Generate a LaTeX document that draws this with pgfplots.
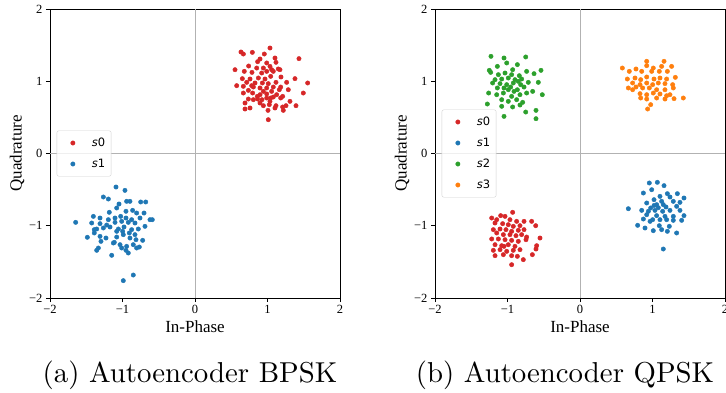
\documentclass[border=0pt]{standalone}
\usepackage{pgfplots}
\pgfplotsset{compat=1.18}
\usepackage{fontspec}
\usepackage{graphicx}
\newfontfamily\timesfont{Liberation Serif}
\newfontfamily\djv{DejaVu Sans}
\definecolor{tabred}{HTML}{D62728}
\definecolor{tabblue}{HTML}{1F77B4}
\definecolor{tabgreen}{HTML}{2CA02C}
\definecolor{taborange}{HTML}{FF7F0E}
\pgfplotsset{
  dot/.style={only marks, mark=*, mark size=2.2pt, mark options={draw=#1, fill=#1}, color=#1},
  iqaxis/.style={
    scale only axis, width=290pt, height=289pt,
    xmin=-2,xmax=2,ymin=-2,ymax=2,
    xtick={-2,-1,0,1,2}, ytick={-2,-1,0,1,2},
    xticklabels={−2,−1,0,1,2}, yticklabels={−2,−1,0,1,2},
    tick align=outside, tick pos=left,
    major tick length=4pt,
    tick style={black, line width=0.8pt},
    axis line style={line width=0.8pt},
    ticklabel style={font=\timesfont\fontsize{12.5}{14}\selectfont},
    xlabel={In-Phase}, ylabel={Quadrature},
    every axis x label/.style={at={(axis description cs:0.5,-0.120)}, anchor=base, inner sep=0pt, font=\timesfont\fontsize{17}{20}\selectfont},
    every axis y label/.style={at={(axis description cs:-0.098,0.5)}, rotate=90, anchor=base, inner sep=0pt, font=\timesfont\fontsize{17}{20}\selectfont},
    legend style={at={(axis description cs:0.023,0.5)}, anchor=west, draw=black!18, rounded corners=2pt, fill=white, fill opacity=0.8, text opacity=1, font=\djv\fontsize{11.5}{13}\selectfont, inner xsep=4pt, inner ysep=5.5pt, row sep=7.5pt,
      cells={anchor=west, inner xsep=4pt, inner ysep=0pt, text height=8pt, text depth=2pt}},
    legend cell align=left,
    legend image code/.code={\path[draw=none,fill=none] (-12pt,-2pt) rectangle (17pt,2pt); \fill[##1, fill opacity=1] (0pt,0pt) circle (2.2pt);},
  }
}
\begin{document}
\begin{tikzpicture}
\begin{axis}[iqaxis, at={(50pt,94pt)}, anchor=south west]
\addplot[forget plot, color=black!30, line width=0.8pt] coordinates {(0,-2) (0,2)};
\addplot[forget plot, color=black!30, line width=0.8pt] coordinates {(-2,0) (2,0)};
\addplot[dot=tabred] coordinates {(1.034,1.460) (0.634,1.405) (0.791,1.400) (0.667,1.377) (0.956,1.377) (1.434,1.313) (1.103,1.322) (0.897,1.308) (0.552,1.160) (0.740,1.211) (0.864,1.271) (0.989,1.253) (1.117,1.262) (1.034,1.206) (0.851,1.183) (0.943,1.183) (1.057,1.160) (1.149,1.170) (0.680,1.137) (0.786,1.123) (0.920,1.114) (0.989,1.137) (1.080,1.137) (1.172,1.160) (1.379,1.036) (0.653,1.036) (0.759,1.031) (0.874,1.045) (0.966,1.031) (1.044,1.068) (1.186,1.059) (1.264,0.985) (1.554,0.976) (0.713,0.985) (0.828,0.976) (0.929,0.976) (1.011,0.967) (1.117,0.985) (0.667,0.930) (0.805,0.920) (0.897,0.907) (0.989,0.907) (1.080,0.920) (1.182,0.920) (0.782,0.939) (0.575,0.939) (0.736,0.874) (0.943,0.860) (1.057,0.860) (1.163,0.883) (1.287,0.883) (1.494,0.837) (0.667,0.837) (0.795,0.837) (0.897,0.814) (0.989,0.824) (1.126,0.814) (1.209,0.791) (0.864,0.754) (0.989,0.768) (1.080,0.782) (0.805,0.745) (0.736,0.754) (0.897,0.699) (1.034,0.722) (1.182,0.768) (1.310,0.722) (0.690,0.699) (1.117,0.662) (1.025,0.676) (1.255,0.662) (1.393,0.662) (0.759,0.630) (0.690,0.616) (1.209,0.644) (1.218,0.597) (1.103,0.630) (0.943,0.662) (1.044,0.768) (0.924,0.745) (1.007,0.597) (1.011,0.468) (0.860,0.791)};
\addlegendentry{{\itshape s}0}
\addplot[dot=tabblue] coordinates {(-1.090,-0.464) (-0.966,-0.510) (-1.048,-0.699) (-0.943,-0.662) (-1.264,-0.602) (-0.897,-0.662) (-0.749,-0.671) (-0.680,-0.671) (-0.952,-0.800) (-1.080,-0.754) (-1.182,-0.814) (-0.860,-0.787) (-0.805,-0.824) (-0.703,-0.824) (-1.402,-0.870) (-1.310,-0.893) (-1.195,-0.916) (-1.103,-0.893) (-1.025,-0.870) (-0.952,-0.893) (-0.874,-0.916) (-0.759,-0.893) (-0.621,-0.916) (-0.589,-0.916) (-1.646,-0.953) (-1.425,-0.962) (-1.310,-0.971) (-1.218,-0.990) (-1.103,-0.953) (-1.011,-0.939) (-0.920,-0.953) (-0.828,-0.962) (-0.690,-1.008) (-1.356,-1.045) (-1.264,-1.031) (-1.172,-1.017) (-1.057,-1.045) (-0.979,-1.017) (-0.874,-1.054) (-0.782,-1.045) (-1.485,-1.160) (-1.389,-1.054) (-1.310,-1.147) (-1.228,-1.170) (-1.080,-1.156) (-0.989,-1.123) (-0.906,-1.100) (-0.814,-1.193) (-0.722,-1.202) (-1.297,-1.216) (-1.126,-1.239) (-1.034,-1.262) (-0.943,-1.285) (-0.851,-1.262) (-0.768,-1.294) (-1.333,-1.308) (-1.356,-1.340) (-1.011,-1.308) (-0.952,-1.340) (-0.920,-1.377) (-0.805,-1.308) (-1.149,-1.409) (-1.113,-1.230) (-0.828,-1.123) (-0.897,-1.170) (-1.080,-1.077) (-0.998,-1.077) (-1.389,-1.100) (-0.989,-1.760) (-0.851,-1.682) (-1.195,-0.630)};
\addlegendentry{{\itshape s}1}
\end{axis}
\begin{axis}[iqaxis, at={(435pt,94pt)}, anchor=south west]
\addplot[forget plot, color=black!30, line width=0.8pt] coordinates {(0,-2) (0,2)};
\addplot[forget plot, color=black!30, line width=0.8pt] coordinates {(-2,0) (2,0)};
\addplot[dot=tabred] coordinates {(-0.929,-0.814) (-1.094,-0.860) (-1.034,-0.870) (-1.218,-0.893) (-1.149,-0.916) (-0.966,-0.916) (-0.874,-0.939) (-0.772,-0.939) (-0.667,-0.939) (-1.172,-0.962) (-1.067,-0.971) (-0.989,-0.985) (-0.920,-1.008) (-0.828,-0.999) (-0.611,-0.999) (-1.195,-1.054) (-1.103,-1.045) (-1.021,-1.054) (-0.943,-1.077) (-0.851,-1.063) (-0.772,-1.054) (-1.149,-1.100) (-1.057,-1.123) (-0.966,-1.123) (-0.883,-1.137) (-0.805,-1.123) (-0.736,-1.156) (-0.552,-1.170) (-1.218,-1.183) (-1.126,-1.183) (-1.034,-1.193) (-0.943,-1.202) (-0.851,-1.216) (-0.745,-1.193) (-1.172,-1.262) (-1.080,-1.276) (-0.989,-1.262) (-0.897,-1.285) (-0.598,-1.276) (-1.195,-1.340) (-1.103,-1.331) (-1.011,-1.354) (-0.920,-1.340) (-0.828,-1.331) (-0.607,-1.322) (-1.172,-1.414) (-1.057,-1.400) (-0.943,-1.414) (-0.864,-1.423) (-0.657,-1.400) (-0.782,-1.469) (-0.943,-1.539) (-1.048,-1.285)};
\addlegendentry{{\itshape s}0}
\addplot[dot=tabblue] coordinates {(0.956,-0.408) (1.067,-0.399) (1.159,-0.445) (0.989,-0.501) (0.874,-0.547) (1.205,-0.556) (1.343,-0.556) (1.241,-0.602) (1.434,-0.616) (1.103,-0.593) (1.021,-0.639) (0.920,-0.685) (1.126,-0.662) (1.287,-0.662) (1.379,-0.676) (1.057,-0.708) (0.975,-0.754) (1.186,-0.740) (1.333,-0.731) (0.667,-0.764) (0.851,-0.787) (0.943,-0.800) (1.034,-0.787) (1.140,-0.800) (1.241,-0.787) (1.379,-0.787) (1.434,-0.860) (0.920,-0.847) (1.057,-0.860) (1.172,-0.870) (1.287,-0.870) (0.874,-0.907) (1.002,-0.916) (1.103,-0.916) (1.195,-0.916) (1.287,-0.925) (1.402,-0.925) (0.795,-0.994) (0.897,-1.031) (1.011,-1.068) (1.126,-1.054) (1.205,-1.077) (1.333,-1.100) (1.149,-1.322) (1.094,-0.999) (1.232,-1.008) (0.966,-0.939) (1.021,-0.720) (1.149,-0.708) (1.080,-0.750)};
\addlegendentry{{\itshape s}1}
\addplot[dot=tabgreen] coordinates {(-1.228,1.345) (-1.048,1.322) (-0.749,1.336) (-1.011,1.253) (-1.140,1.206) (-0.864,1.230) (-1.251,1.151) (-1.232,1.123) (-0.929,1.160) (-0.736,1.137) (-0.634,1.105) (-0.538,1.151) (-1.126,1.091) (-1.034,1.114) (-0.943,1.091) (-0.837,1.077) (-1.172,1.022) (-1.080,1.031) (-0.989,1.045) (-0.897,1.022) (-0.805,1.031) (-1.205,0.976) (-1.103,0.967) (-1.011,0.953) (-0.920,0.976) (-0.818,0.953) (-0.713,0.985) (-0.575,0.985) (-1.260,0.837) (-1.140,0.907) (-1.048,0.907) (-0.956,0.920) (-0.864,0.883) (-0.772,0.920) (-0.653,0.860) (-0.520,0.814) (-1.149,0.814) (-1.057,0.837) (-0.943,0.791) (-0.828,0.814) (-0.736,0.837) (-1.080,0.745) (-0.989,0.722) (-0.874,0.745) (-0.791,0.708) (-1.080,0.653) (-0.929,0.644) (-0.828,0.671) (-1.278,0.685) (-1.048,0.514) (-0.749,0.574) (-0.607,0.597) (-0.607,0.482) (-0.989,0.883) (-0.851,0.999) (-0.910,0.860)};
\addlegendentry{{\itshape s}2}
\addplot[dot=taborange] coordinates {(0.584,1.183) (0.920,1.276) (1.159,1.276) (0.772,1.170) (0.920,1.216) (1.011,1.183) (1.126,1.206) (1.264,1.206) (0.680,1.137) (0.851,1.137) (0.989,1.137) (1.094,1.137) (1.205,1.137) (0.653,1.031) (0.759,1.045) (0.837,1.022) (0.920,1.059) (1.021,1.031) (1.103,1.045) (1.195,1.031) (1.315,1.054) (0.726,0.976) (0.828,0.953) (0.920,0.976) (1.002,0.953) (1.080,0.976) (1.172,0.967) (1.278,0.953) (0.667,0.907) (0.772,0.920) (0.864,0.907) (0.956,0.907) (1.057,0.883) (1.172,0.883) (1.287,0.907) (0.726,0.883) (0.828,0.828) (0.920,0.814) (1.011,0.837) (1.103,0.824) (1.195,0.800) (1.241,0.814) (0.837,0.768) (0.920,0.754) (1.057,0.768) (1.172,0.754) (1.297,0.759) (1.425,0.768) (0.975,0.676) (0.933,0.616)};
\addlegendentry{{\itshape s}3}
\end{axis}
\node[anchor=base, inner sep=0pt] at (190pt,10pt) {\scalebox{2.88}{(a) Autoencoder BPSK}};
\node[anchor=base, inner sep=0pt] at (565pt,10pt) {\scalebox{2.88}{(b) Autoencoder QPSK}};
\pgfresetboundingbox
\path (0pt,0pt) rectangle (726pt,392pt);
\end{tikzpicture}
\end{document}
